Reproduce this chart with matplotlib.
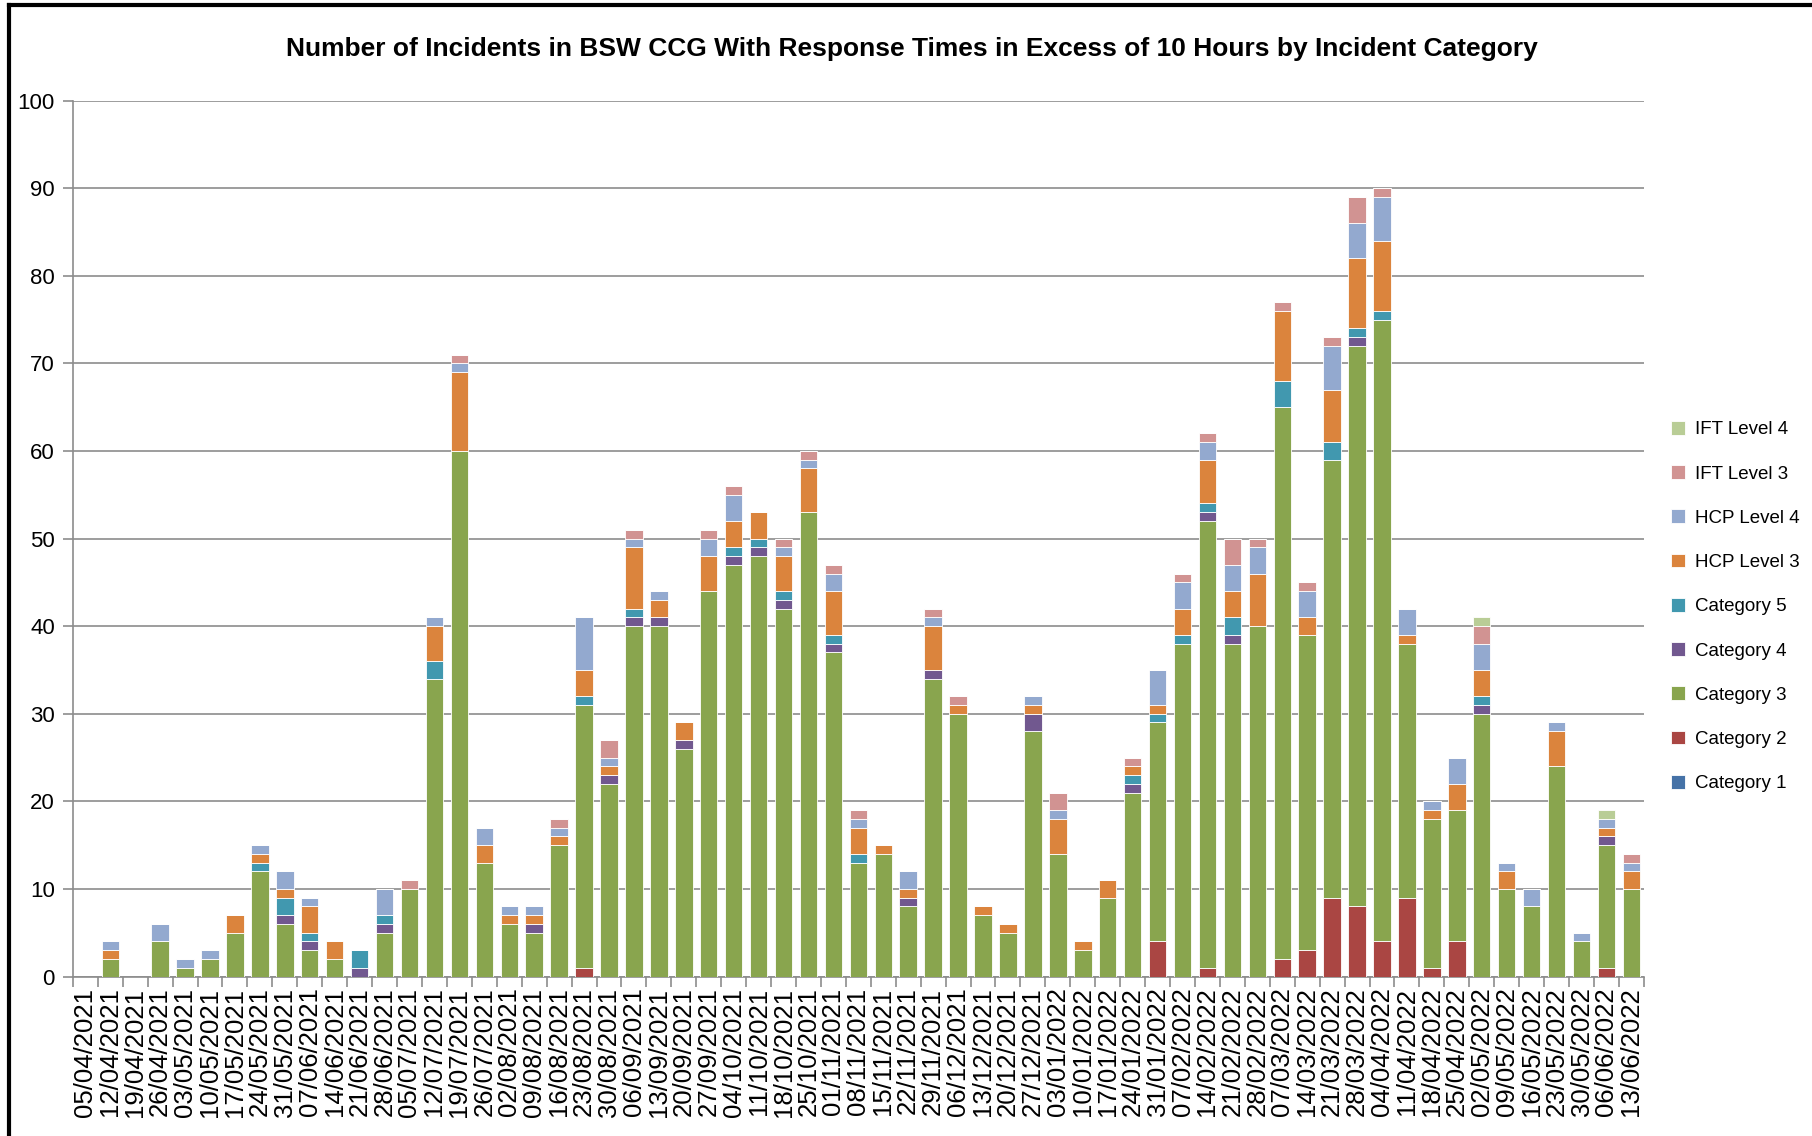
import numpy as np
import pandas as pd
import matplotlib
matplotlib.use("Agg")
import matplotlib.pyplot as plt
from matplotlib.lines import Line2D
from matplotlib import font_manager

plt.rcParams['font.family'] = ['Liberation Sans', 'DejaVu Sans']

# weekly periods shown on the x axis
weeks = pd.date_range('2021-04-05', '2022-06-13', freq='7D').strftime('%d/%m/%Y').tolist()

cat1 = [0] * 63
cat2 = [0, 0, 0, 0, 0, 0, 0, 0, 0, 0, 0, 0, 0, 0, 0, 0, 0, 0, 0, 0,
        1, 0, 0, 0, 0, 0, 0, 0, 0, 0, 0, 0, 0, 0, 0, 0, 0, 0, 0, 0,
        0, 0, 0, 4, 0, 1, 0, 0, 2, 3, 9, 8, 4, 9, 1, 4, 0, 0, 0, 0,
        0, 1, 0]
cat3 = [0, 2, 0, 4, 1, 2, 5, 12, 6, 3, 2, 0, 5, 10, 34, 60, 13, 6, 5, 15,
        30, 22, 40, 40, 26, 44, 47, 48, 42, 53, 37, 13, 14, 8, 34, 30, 7, 5, 28, 14,
        3, 9, 21, 25, 38, 51, 38, 40, 63, 36, 50, 64, 71, 29, 17, 15, 30, 10, 8, 24,
        4, 14, 10]
cat4 = [0, 0, 0, 0, 0, 0, 0, 0, 1, 1, 0, 1, 1, 0, 0, 0, 0, 0, 1, 0,
        0, 1, 1, 1, 1, 0, 1, 1, 1, 0, 1, 0, 0, 1, 1, 0, 0, 0, 2, 0,
        0, 0, 1, 0, 0, 1, 1, 0, 0, 0, 0, 1, 0, 0, 0, 0, 1, 0, 0, 0,
        0, 1, 0]
cat5 = [0, 0, 0, 0, 0, 0, 0, 1, 2, 1, 0, 2, 1, 0, 2, 0, 0, 0, 0, 0,
        1, 0, 1, 0, 0, 0, 1, 1, 1, 0, 1, 1, 0, 0, 0, 0, 0, 0, 0, 0,
        0, 0, 1, 1, 1, 1, 2, 0, 3, 0, 2, 1, 1, 0, 0, 0, 1, 0, 0, 0,
        0, 0, 0]
hcp3 = [0, 1, 0, 0, 0, 0, 2, 1, 1, 3, 2, 0, 0, 0, 4, 9, 2, 1, 1, 1,
        3, 1, 7, 2, 2, 4, 3, 3, 4, 5, 5, 3, 1, 1, 5, 1, 1, 1, 1, 4,
        1, 2, 1, 1, 3, 5, 3, 6, 8, 2, 6, 8, 8, 1, 1, 3, 3, 2, 0, 4,
        0, 1, 2]
hcp4 = [0, 1, 0, 2, 1, 1, 0, 1, 2, 1, 0, 0, 3, 0, 1, 1, 2, 1, 1, 1,
        6, 1, 1, 1, 0, 2, 3, 0, 1, 1, 2, 1, 0, 2, 1, 0, 0, 0, 1, 1,
        0, 0, 0, 4, 3, 2, 3, 3, 0, 3, 5, 4, 5, 3, 1, 3, 3, 1, 2, 1,
        1, 1, 1]
ift3 = [0, 0, 0, 0, 0, 0, 0, 0, 0, 0, 0, 0, 0, 1, 0, 1, 0, 0, 0, 1,
        0, 2, 1, 0, 0, 1, 1, 0, 1, 1, 1, 1, 0, 0, 1, 1, 0, 0, 0, 2,
        0, 0, 1, 0, 1, 1, 3, 1, 1, 1, 1, 3, 1, 0, 0, 0, 2, 0, 0, 0,
        0, 0, 1]
ift4 = [0, 0, 0, 0, 0, 0, 0, 0, 0, 0, 0, 0, 0, 0, 0, 0, 0, 0, 0, 0,
        0, 0, 0, 0, 0, 0, 0, 0, 0, 0, 0, 0, 0, 0, 0, 0, 0, 0, 0, 0,
        0, 0, 0, 0, 0, 0, 0, 0, 0, 0, 0, 0, 0, 0, 0, 0, 1, 0, 0, 0,
        0, 1, 0]

series = [('Category 1', cat1, '#4572A7'),
          ('Category 2', cat2, '#AA4643'),
          ('Category 3', cat3, '#89A54E'),
          ('Category 4', cat4, '#71588F'),
          ('Category 5', cat5, '#4198AF'),
          ('HCP Level 3', hcp3, '#DB843D'),
          ('HCP Level 4', hcp4, '#93A9CF'),
          ('IFT Level 3', ift3, '#D19392'),
          ('IFT Level 4', ift4, '#B9CD96')]

fig = plt.figure(figsize=(18.12, 11.36), dpi=100)
ax = fig.add_axes([0.0402, 0.1404, 0.867, 0.7711])

x = np.arange(len(weeks))
bottom = np.zeros(len(weeks))
handles = []
for name, vals, col in series:
    vals = np.array(vals, dtype=float)
    b = ax.bar(x, vals, 0.7, bottom=bottom, color=col, edgecolor='white',
               linewidth=0.6, label=name, zorder=3)
    handles.append(b)
    bottom += vals

ax.set_xlim(-0.5, len(weeks) - 0.5)
ax.set_ylim(0, 100)
ax.set_yticks(range(0, 101, 10))
ax.yaxis.grid(True, color='#8c8c8c', linewidth=1.2, zorder=0)
ax.set_axisbelow(True)

ax.set_xticks(x)
ax.set_xticklabels(weeks, rotation=90, fontsize=18.5)
ax.set_xticks(np.arange(-0.5, len(weeks)), minor=True)
ax.tick_params(axis='x', which='major', length=0, pad=8)
ax.tick_params(axis='x', which='minor', length=7, color='#8c8c8c', width=1.2)
ax.tick_params(axis='y', length=7, color='#8c8c8c', width=1.2, labelsize=16, pad=6)

for s in ['top', 'right']:
    ax.spines[s].set_visible(False)
for s in ['left', 'bottom']:
    ax.spines[s].set_color('#8c8c8c')
    ax.spines[s].set_linewidth(1.2)

title = 'Number of Incidents in BSW CCG With Response Times in Excess of 10 Hours by Incident Category'
names = [f.name for f in font_manager.fontManager.ttflist]
if 'Liberation Sans Narrow' in names:
    fig.text(0.503, 0.957, title, ha='center', va='center', fontsize=22,
             fontweight='bold', family='Liberation Sans Narrow')
else:
    fig.text(0.503, 0.957, title, ha='center', va='center', fontsize=19, fontweight='bold')

fig.legend(handles[::-1], [s[0] for s in series][::-1], loc='center left',
           bbox_to_anchor=(0.913, 0.466), frameon=False, fontsize=13.5,
           handlelength=0.75, handleheight=0.75, handletextpad=0.5, labelspacing=1.43)

# outer frame lines (left and top)
fig.add_artist(Line2D([0.005, 0.005], [0, 0.996], transform=fig.transFigure, color='black', linewidth=3))
fig.add_artist(Line2D([0.005, 1], [0.996, 0.996], transform=fig.transFigure, color='black', linewidth=3))

fig.savefig('out.png', dpi=100, facecolor='white')
